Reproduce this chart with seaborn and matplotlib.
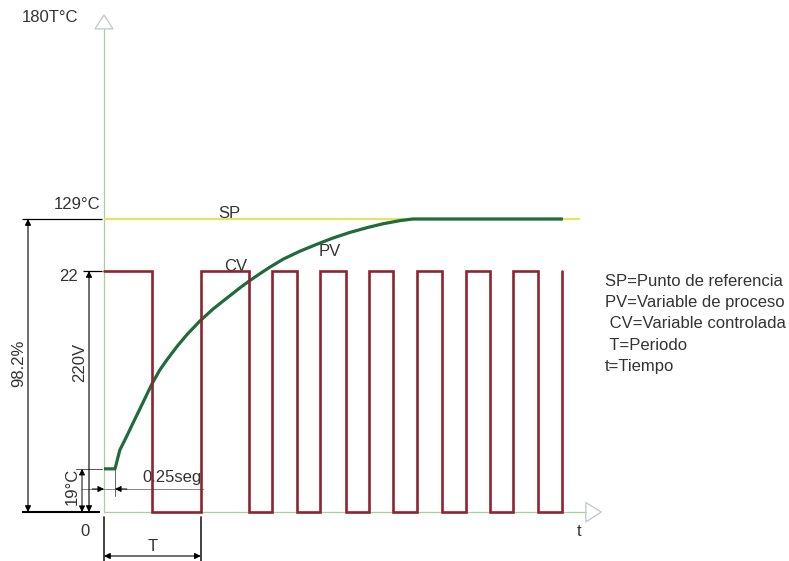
import matplotlib
matplotlib.use("Agg")
import matplotlib.pyplot as plt
from matplotlib.patches import Polygon
import seaborn as sns

# Controlled variable (relay output): switching instants [s] and level after each switch
cv_time = [0, 1.09, 2.2, 3.3, 3.82, 4.39, 4.91, 5.5, 6.02, 6.57, 7.11, 7.68,
           8.23, 8.77, 9.3, 9.86, 10.41]
cv_level = [22, 0, 22, 0, 22, 0, 22, 0, 22, 0, 22, 0, 22, 0, 22, 0, 22]

# Process variable: temperature response [°C]
pv_time = [0, 0.25, 0.36, 0.52, 0.66, 0.82, 0.98, 1.09, 1.27, 1.43, 1.66,
           1.89, 2.18, 2.48, 2.80, 3.09, 3.30, 3.55, 3.77, 4.07, 4.45, 4.84,
           5.20, 5.59, 5.98, 6.34, 6.73, 7.02, 10.43]
pv_temp = [19, 19, 27.3, 33.5, 39.2, 45.6, 52.0, 56.4, 62.6, 67.0, 72.9,
           78.2, 84.1, 89.4, 94.3, 98.7, 101.7, 105.0, 107.8, 111.3, 114.8, 117.9,
           120.6, 123.1, 125.2, 126.9, 128.3, 129, 129]

# Set point
sp_time = [0, 10.82]
sp_temp = [129, 129]

period = 2.2        # T
dead_time = 0.25    # seg
pv_start = 19       # °C
sp_value = 129      # °C
cv_high = 22

legend_lines = ["SP=Punto de referencia", "PV=Variable de proceso",
                " CV=Variable controlada", " T=Periodo", "t=Tiempo"]

sns.set_theme(style="white")
plt.rcParams["font.family"] = ["Liberation Sans", "DejaVu Sans"]

TXT = "#333333"
AXC = "#a9cfa0"
HEADC = "#c4ccc4"
CVC = "#8e2430"
PVC = "#1f6b3b"
SPC = "#e4e462"

fig = plt.figure(figsize=(7.89, 5.61), dpi=100)
ax = fig.add_axes([0, 0, 1, 1])
ax.set_xlim(-2.3636, 15.568)
ax.set_ylim(-21.57, 225.42)
ax.axis("off")

ax2 = ax.twinx()
ax2.set_ylim(-4.473, 46.739)
ax2.axis("off")

# coordinate axes with open arrow heads
ax.plot([0, 0], [0, 212.7], color=AXC, lw=0.9, zorder=1)
ax.plot([0, 10.95], [0, 0], color=AXC, lw=0.9, zorder=1)
ax.add_patch(Polygon([(-0.205, 212.7), (0.205, 212.7), (0, 218.8)], closed=True,
                     fill=False, ec=HEADC, lw=1.0))
ax.add_patch(Polygon([(10.95, 4.2), (10.95, -4.4), (11.3, 0)], closed=True,
                     fill=False, ec=HEADC, lw=1.0))

# signals
sns.lineplot(x=sp_time, y=sp_temp, ax=ax, color=SPC, lw=1.6, estimator=None,
             solid_capstyle="butt", zorder=2)
sns.lineplot(x=cv_time, y=cv_level, ax=ax2, color=CVC, lw=1.9, estimator=None,
             drawstyle="steps-post", solid_joinstyle="miter", zorder=3)
sns.lineplot(x=pv_time, y=pv_temp, ax=ax, color=PVC, lw=2.3, estimator=None,
             solid_capstyle="butt", solid_joinstyle="round", zorder=4)

# dimension helpers
def dim(a, p0, p1, style="<|-|>", lw=0.8, color="black"):
    a.annotate("", xy=p1, xytext=p0,
               arrowprops=dict(arrowstyle=style, color=color, lw=lw,
                               shrinkA=0, shrinkB=0, mutation_scale=9))

ext = dict(color="black", lw=0.9, solid_capstyle="butt")

# 98.2 % span (0 .. SP)
ax.plot([-1.864, -0.045], [sp_value, sp_value], **ext)
ax.plot([-1.864, -0.091], [0, 0], color="black", lw=1.5, solid_capstyle="butt")
dim(ax, (-1.727, sp_value), (-1.727, 0))
ax.text(-1.932, 65.6, "98.2%", rotation=90, ha="center", va="center",
        fontsize=12, color=TXT)

# 220V span (0 .. CV high)
ax2.plot([-0.477, -0.045], [cv_high, cv_high], **ext)
dim(ax2, (-0.341, cv_high), (-0.341, 0))
ax.text(-0.545, 66.0, "220V", rotation=90, ha="center", va="center",
        fontsize=12, color=TXT)

# 19 °C span
ax.plot([-0.636, -0.045], [pv_start, pv_start], color="#555555", lw=0.7)
dim(ax, (-0.5, pv_start), (-0.5, 0), lw=0.7)
ax.text(-0.727, 11.45, "19°C", rotation=90, ha="center", va="center",
        fontsize=12, color=TXT)

# dead time 0.25 seg
ax.plot([-0.5, 2.25], [10.13, 10.13], color="#888888", lw=0.7)
ax.plot([dead_time, dead_time], [20.7, 7.04], color="#666666", lw=0.7)
dim(ax, (-0.27, 10.13), (0, 10.13), style="-|>", lw=0.7)
dim(ax, (dead_time + 0.27, 10.13), (dead_time, 10.13), style="-|>", lw=0.7)
ax.text(1.545, 15.4, "0.25seg", ha="center", va="center", fontsize=12, color=TXT)

# period T
ax.plot([0, 0], [-2.2, -21.57], color="#333333", lw=1.3)
ax.plot([period, period], [-2.2, -21.57], color="#333333", lw=1.3)
dim(ax, (0, -19.37), (period, -19.37), lw=0.8)
ax.text(period / 2, -14.97, "T", ha="center", va="center", fontsize=12, color=TXT)

# labels
ax.text(-1.227, 217.9, "180T°C", ha="center", va="center", fontsize=12, color=TXT)
ax.text(-0.091, 135.2, "129°C", ha="right", va="center", fontsize=12, color=TXT)
ax.text(-0.591, 103.9, "22", ha="right", va="center", fontsize=12, color=TXT)
ax.text(-0.432, -8.8, "0", ha="center", va="center", fontsize=12, color=TXT)
ax.text(10.795, -8.8, "t", ha="center", va="center", fontsize=12, color=TXT)
ax.text(2.84, 131.6, "SP", ha="center", va="center", fontsize=12, color=TXT)
ax.text(3.0, 108.3, "CV", ha="center", va="center", fontsize=12, color=TXT)
ax.text(5.136, 114.5, "PV", ha="center", va="center", fontsize=12, color=TXT)

# legend text block
for i, line in enumerate(legend_lines):
    fig.text(605 / 789, 1 - (281 + 21.5 * i) / 561, line, ha="left", va="center",
             fontsize=12, color=TXT)

fig.savefig("out.png", dpi=100)
